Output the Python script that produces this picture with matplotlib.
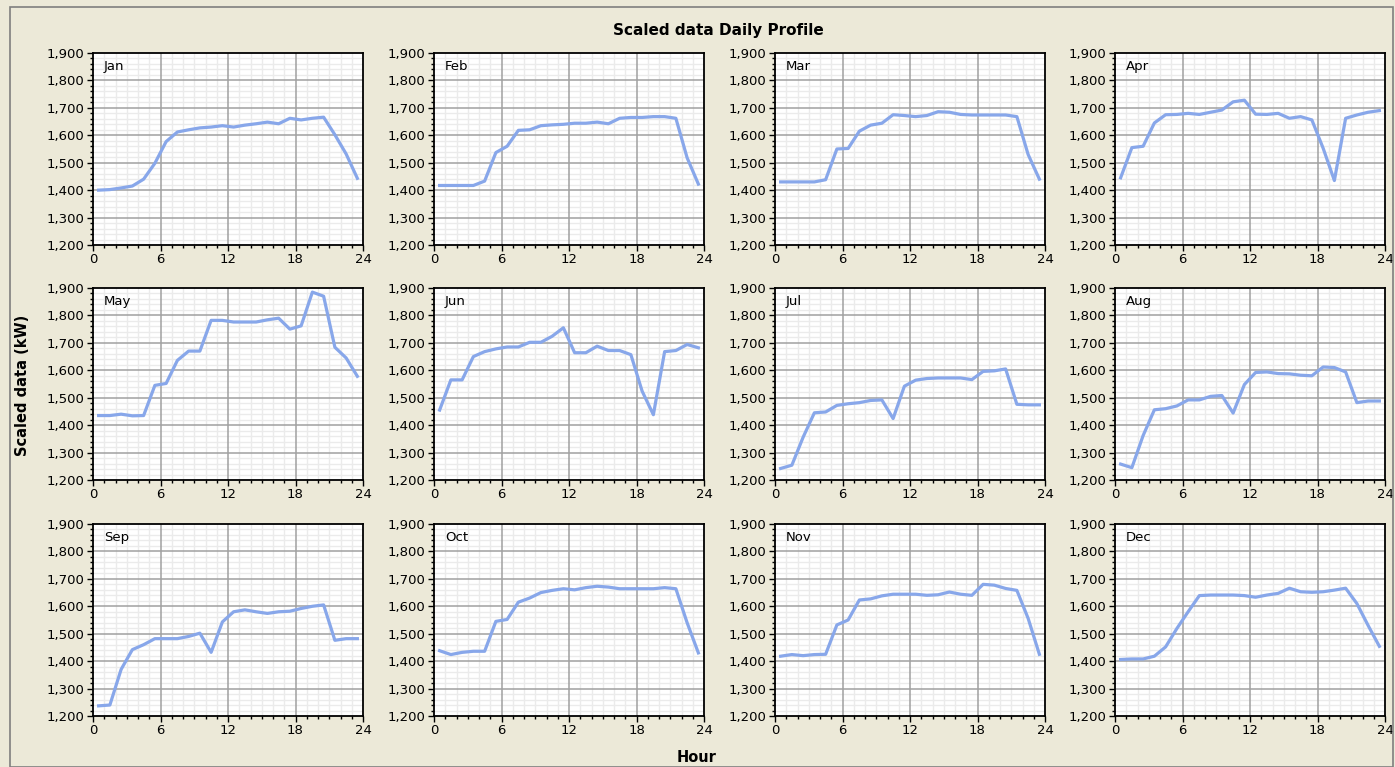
import matplotlib
matplotlib.use("Agg")
import matplotlib.pyplot as plt
from matplotlib.ticker import MultipleLocator, FuncFormatter
from matplotlib.patches import Rectangle

# Hourly averages (kW), plotted at the middle of each hour
hours = [h + 0.5 for h in range(24)]
months = ["Jan", "Feb", "Mar", "Apr", "May", "Jun",
          "Jul", "Aug", "Sep", "Oct", "Nov", "Dec"]

jan = [1400, 1402, 1408, 1415, 1440, 1498, 1577, 1612, 1620, 1627, 1630, 1635,
       1630, 1637, 1642, 1648, 1642, 1662, 1656, 1662, 1666, 1602, 1532, 1443]
feb = [1417, 1417, 1417, 1417, 1433, 1537, 1560, 1618, 1620, 1635, 1638, 1640,
       1644, 1644, 1648, 1642, 1662, 1665, 1665, 1668, 1668, 1662, 1518, 1422]
mar = [1430, 1430, 1430, 1430, 1438, 1550, 1552, 1615, 1637, 1644, 1675, 1672,
       1668, 1672, 1686, 1684, 1676, 1674, 1674, 1674, 1674, 1668, 1530, 1440]
apr = [1445, 1555, 1560, 1645, 1675, 1676, 1680, 1676, 1684, 1692, 1722, 1728,
       1677, 1676, 1680, 1662, 1668, 1656, 1553, 1435, 1662, 1674, 1684, 1690]
may = [1435, 1435, 1440, 1434, 1435, 1545, 1552, 1636, 1670, 1670, 1782, 1782,
       1776, 1776, 1776, 1784, 1790, 1750, 1762, 1885, 1870, 1684, 1645, 1578]
jun = [1455, 1565, 1565, 1650, 1668, 1678, 1685, 1685, 1702, 1702, 1724, 1755,
       1664, 1664, 1688, 1672, 1672, 1657, 1524, 1438, 1668, 1672, 1694, 1682]
jul = [1242, 1254, 1356, 1445, 1448, 1472, 1478, 1482, 1490, 1492, 1424, 1542,
       1564, 1570, 1572, 1572, 1572, 1566, 1596, 1598, 1605, 1476, 1474, 1474]
aug = [1258, 1245, 1362, 1456, 1460, 1470, 1492, 1492, 1505, 1508, 1444, 1548,
       1592, 1594, 1588, 1587, 1582, 1580, 1612, 1610, 1594, 1482, 1488, 1488]
sep = [1237, 1240, 1370, 1442, 1460, 1482, 1482, 1482, 1490, 1502, 1432, 1543,
       1580, 1587, 1580, 1574, 1580, 1582, 1592, 1600, 1605, 1476, 1482, 1482]
oct_ = [1438, 1424, 1432, 1436, 1436, 1545, 1552, 1615, 1630, 1650, 1658, 1664,
        1660, 1668, 1673, 1670, 1664, 1664, 1664, 1664, 1668, 1664, 1540, 1430]
nov = [1418, 1424, 1420, 1424, 1425, 1532, 1550, 1623, 1627, 1638, 1644, 1644,
       1644, 1640, 1642, 1652, 1644, 1640, 1680, 1677, 1665, 1658, 1556, 1425]
dec = [1406, 1408, 1408, 1418, 1452, 1519, 1580, 1639, 1641, 1641, 1641, 1639,
       1633, 1641, 1647, 1666, 1653, 1651, 1653, 1659, 1666, 1610, 1530, 1454]

series = [jan, feb, mar, apr, may, jun, jul, aug, sep, oct_, nov, dec]

y_min, y_max = 1200, 1900
x_ticks = [0, 6, 12, 18, 24]
y_ticks = list(range(1200, 1901, 100))

W, H = 1395, 767
bg = "#ECE9D8"
line_color = "#88A7EA"

plt.rcParams["font.family"] = ["DejaVu Sans"]

fig = plt.figure(figsize=(W / 100, H / 100), dpi=100, facecolor=bg)

# outer frame
fig.patches.append(Rectangle((10 / W, 0), (W - 12) / W, 1 - 7 / H,
                             transform=fig.transFigure, fill=False,
                             edgecolor="#7F7F7F", linewidth=1.2))

col_left = [93, 434, 775, 1115]
row_top = [53, 288, 524]
aw, ah = 270, 192

fmt = FuncFormatter(lambda v, p: f"{int(v):,}")

for i, (name, vals) in enumerate(zip(months, series)):
    r, c = divmod(i, 4)
    left = col_left[c] / W
    bottom = 1 - (row_top[r] + ah) / H
    ax = fig.add_axes([left, bottom, aw / W, ah / H])
    ax.set_facecolor("white")
    ax.set_axisbelow(True)
    ax.set_xlim(0, 24)
    ax.set_ylim(y_min, y_max)
    ax.set_xticks(x_ticks)
    ax.set_yticks(y_ticks)
    ax.xaxis.set_minor_locator(MultipleLocator(1))
    ax.yaxis.set_minor_locator(MultipleLocator(20))
    ax.yaxis.set_major_formatter(fmt)
    # light minor grid, then solid major grid on top of it
    ax.grid(which="minor", color="#EBEBEB", linewidth=1.0)
    for xv in x_ticks[1:-1]:
        ax.axvline(xv, color="#A0A0A0", linewidth=1.1, zorder=1)
    for yv in y_ticks[1:-1]:
        ax.axhline(yv, color="#A0A0A0", linewidth=1.1, zorder=1)
    ax.plot(hours, vals, color=line_color, linewidth=2.3,
            solid_joinstyle="round", zorder=3)
    ax.tick_params(which="major", direction="out", length=4, width=1,
                   labelsize=9.5, color="black", pad=2)
    ax.tick_params(which="minor", direction="out", length=2, width=1,
                   color="black")
    for s in ax.spines.values():
        s.set_linewidth(1.3)
        s.set_color("black")
        s.set_zorder(4)
    ax.text(0.04, 0.965, name, transform=ax.transAxes, ha="left", va="top",
            fontsize=9.5, zorder=4)

fig.text(718 / W, 1 - 30 / H, "Scaled data Daily Profile", ha="center",
         va="center", fontsize=11, fontweight="bold")
fig.text(23 / W, 1 - 385 / H, "Scaled data (kW)", ha="center", va="center",
         rotation=90, fontsize=10.5, fontweight="bold")
fig.text(697 / W, 1 - 757 / H, "Hour", ha="center", va="center",
         fontsize=10.5, fontweight="bold")

fig.savefig("out.png", dpi=100, facecolor=bg)
